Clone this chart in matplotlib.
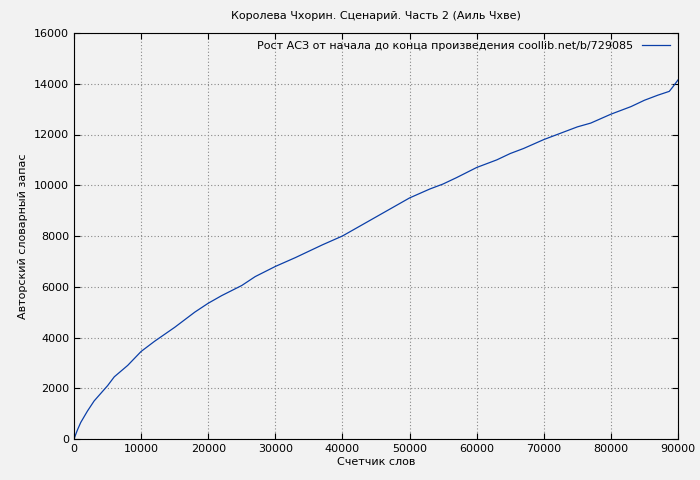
import matplotlib
matplotlib.use("Agg")
import matplotlib.pyplot as plt

words = [0, 500, 1000, 2000, 3000, 4000, 5000, 6000, 8000, 10000, 12000, 15000, 18000, 20000, 22000, 25000, 27000, 30000, 33000, 35000, 37000, 40000, 43000, 45000, 47000, 50000, 53000, 55000, 57000, 60000, 63000, 65000, 67000, 70000, 73000, 75000, 77000, 80000, 83000, 85000, 87000, 88700, 89300, 90000]
vocab = [0, 350, 650, 1100, 1500, 1800, 2100, 2450, 2900, 3450, 3850, 4400, 5000, 5350, 5650, 6050, 6400, 6800, 7150, 7400, 7650, 8000, 8450, 8750, 9050, 9500, 9850, 10050, 10300, 10700, 11000, 11250, 11450, 11800, 12100, 12300, 12450, 12800, 13100, 13350, 13550, 13700, 13900, 14150]

plt.rcParams['font.family'] = ['DejaVu Sans']
fig = plt.figure(figsize=(7, 4.8), dpi=100, facecolor='#f2f2f2')
ax = fig.add_axes([74/700, 1-439/480, 604/700, 406/480], facecolor='#f2f2f2')
ax.plot(words, vocab, color='#0b3fa8', lw=0.9, label='Рост АСЗ от начала до конца произведения coollib.net/b/729085')
ax.set_xlim(0, 90000)
ax.set_ylim(0, 16000)
ax.set_xticks(range(0, 90001, 10000))
ax.set_yticks(range(0, 16001, 2000))
ax.grid(True, color='#888888', linestyle=(0, (1, 2)), lw=0.8)
ax.tick_params(labelsize=8, direction='in', length=4, top=True, right=True)
ax.set_xlabel('Счетчик слов', fontsize=8, labelpad=2)
ax.set_ylabel('Авторский словарный запас', fontsize=8)
ax.set_title('Королева Чхорин. Сценарий. Часть 2 (Аиль Чхве)', fontsize=8, pad=10)
leg = ax.legend(loc='upper right', fontsize=8, frameon=False, markerfirst=False, handlelength=2.5, borderaxespad=0.3)
fig.savefig('out.png', dpi=100, facecolor=fig.get_facecolor())
